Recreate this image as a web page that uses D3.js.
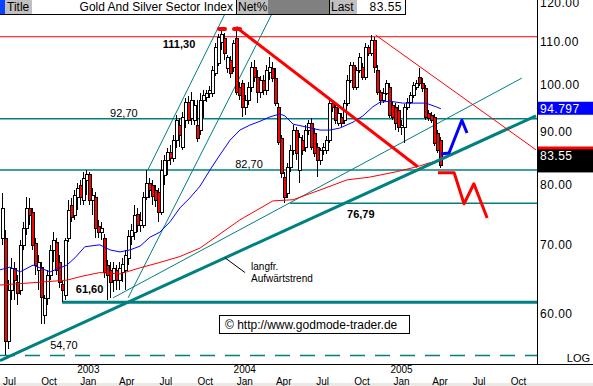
<!DOCTYPE html>
<html>
<head>
<meta charset="utf-8">
<script src="https://cdn.jsdelivr.net/npm/d3@7/dist/d3.min.js"></script>
<style>
  body { margin: 0; background: #fff; }
  svg { display: block; }
  text { font-family: "Liberation Sans", Arial, sans-serif; fill: #000; }
</style>
</head>
<body>
<div id="chart"></div>
<script>
// weekly candles, the last bar is the week of 4 Apr 2005
const lastWeek = new Date(2005, 3, 4);

const opens = [71.0,71.0,56.5,63.3,66.5,64.4,63.3,70.0,72.7,76.0, 75.3,70.3,66.2,66.6,59.8,62.2,65.5,69.2,70.4,67.4,
  64.1,62.6,71.0,76.5,74.8,77.9,80.0,77.4,80.9,82.0, 77.4,77.9,73.0,72.0,71.0,66.9,66.2,64.7,66.2,64.7,
  65.9,66.2,68.0,71.4,72.0,75.0,73.2,73.2,77.9,80.4, 80.0,79.1,78.8,75.3,81.8,84.6,86.1,84.9,88.4,91.4,
  87.1,92.4,96.2,92.9,92.4,91.4,90.4,96.7,97.3,98.2, 98.2,102.7,105.0,110.0,111.0,103.8,105.7,104.0,111.0,99.5,
  100.4,95.2,96.7,99.5,104.0,101.7,98.4,101.1,98.8,102.9, 103.8,101.5,95.2,88.8,81.4,78.6,83.3,86.5,90.4,82.7,
  88.4,87.1,90.4,91.8,89.8,87.1,84.6,86.5,86.5,88.4, 96.0,95.2,91.8,93.1,92.4,96.0,101.1,104.5,99.5,103.3,
  104.0,101.7,108.8,107.4,110.5,103.3,98.4,96.7,98.2,99.5, 95.6,95.2,94.5,91.0,91.0,95.2,96.2,97.7,99.5,101.7,
  100.4,99.3,93.9,93.5,93.1,89.8,88.4];
const highs = [78.6,72.3,64.7,68.0,67.4,65.5,70.8,73.7,77.9,77.7, 76.0,71.0,68.4,67.4,62.6,66.2,70.0,72.0,71.0,68.4,
  64.7,71.0,77.4,77.7,79.1,80.4,80.9,82.4,82.7,82.4, 79.4,78.8,74.0,73.7,71.7,67.7,67.4,67.4,66.9,67.4,
  68.0,69.2,72.3,73.3,76.5,76.0,75.3,78.8,82.7,81.2, 80.9,80.0,79.4,84.6,85.5,86.9,87.4,89.4,93.5,92.9,
  94.1,97.1,97.5,98.4,96.7,96.7,98.2,98.8,98.8,99.7, 104.3,109.75,112.0,113.0,112.2,106.9,106.6,110.5,113.0,100.6,
  101.1,97.7,100.6,105.2,105.7,103.3,102.0,102.2,104.5,106.4, 105.2,103.8,96.0,89.4,82.4,84.0,87.4,91.4,91.0,89.8,
  89.4,91.4,92.4,92.9,90.8,87.8,86.9,87.8,89.2,96.7, 96.7,96.0,94.9,93.9,96.7,102.2,105.2,105.2,104.0,107.4,
  105.0,109.75,109.3,111.7,111.2,104.5,98.8,99.3,101.1,100.4, 96.2,96.0,95.6,92.4,95.8,97.1,98.4,100.6,101.1,103.8,
  101.5,99.9,94.5,94.1,93.7,90.4,89.0];
const lows = [70.0,54.7,55.5,61.9,61.9,61.2,62.6,69.2,71.5,73.2, 69.2,65.5,63.3,58.7,58.7,61.2,64.7,67.4,65.5,63.6,
  61.6,61.9,70.4,73.7,74.0,75.6,76.5,76.5,78.2,76.5, 74.8,71.0,71.0,70.8,65.0,61.9,62.2,63.0,63.3,63.3,
  64.4,63.3,66.9,70.0,70.8,72.0,72.0,72.7,77.4,77.7, 76.5,76.2,73.7,74.8,80.0,81.8,83.6,84.2,86.9,87.1,
  86.5,90.8,91.6,91.4,91.4,88.0,89.4,92.9,96.2,97.1, 97.3,102.0,104.3,108.1,105.7,102.7,101.5,102.9,97.7,96.7,
  93.1,93.5,95.6,98.4,100.6,96.0,97.1,97.7,97.7,101.1, 100.6,95.4,87.4,81.2,76.79,77.7,82.4,85.5,84.6,80.4,
  85.5,86.1,89.4,86.5,85.1,81.4,83.6,85.5,85.7,87.8, 94.1,91.6,91.2,91.0,91.6,95.4,100.4,98.8,98.8,102.7,
  101.1,101.1,106.6,106.6,102.7,97.7,95.6,96.0,97.7,92.9, 92.4,90.4,90.0,89.4,87.8,94.5,95.8,97.1,98.8,99.7,
  98.4,92.4,92.2,91.8,87.2,85.9,83.1];
const closes = [76.0,56.5,63.3,66.5,64.7,62.9,70.0,72.7,76.0,74.8, 70.0,66.9,67.4,62.3,62.2,65.5,69.2,70.8,66.2,64.4,
  63.3,70.8,75.6,74.5,78.2,79.4,77.9,81.2,82.0,77.4, 78.2,72.7,72.0,72.7,65.9,65.5,64.4,66.5,64.7,66.5,
  67.1,68.4,71.4,72.3,74.8,73.2,74.0,77.9,80.4,79.1, 78.0,77.4,75.3,82.7,84.6,86.1,84.9,88.4,92.4,89.4,
  93.1,96.2,92.4,96.7,95.6,88.8,96.7,97.7,98.2,98.8, 103.3,108.8,111.2,112.0,107.4,106.4,102.7,109.75,98.4,97.7,
  95.2,96.7,99.5,104.0,101.7,98.4,101.1,98.8,103.3,104.0, 101.5,96.0,88.0,82.2,77.9,83.3,86.5,90.4,85.9,89.0,
  86.5,90.4,91.8,87.1,85.9,84.6,86.5,87.1,88.4,96.0, 95.2,92.4,93.9,91.8,96.0,101.1,104.5,99.5,103.3,106.4,
  101.7,108.8,107.4,110.5,104.0,98.4,96.7,98.2,100.4,93.5, 93.1,91.8,91.0,91.4,95.2,96.2,97.7,99.9,100.4,100.4,
  99.3,93.1,92.9,92.4,87.8,86.5,83.55];

// moving averages
const maFastDates = ["2002-06-10","2002-07-03","2002-07-27","2002-08-26","2002-09-11","2002-10-05","2002-10-28","2002-11-13","2002-12-02","2002-12-25",
  "2003-01-29","2003-02-22","2003-03-17","2003-04-09","2003-05-03","2003-05-26","2003-06-18","2003-07-12","2003-08-04","2003-08-27","2003-09-20","2003-10-13","2003-11-05","2003-11-29","2003-12-22",
  "2004-01-14","2004-02-07","2004-03-01","2004-03-24","2004-04-05","2004-04-24","2004-05-26","2004-06-26","2004-07-19","2004-08-11","2004-09-11","2004-10-04","2004-10-27","2004-11-13","2004-12-06",
  "2005-01-05","2005-02-07","2005-02-28","2005-03-24","2005-04-04"];
const maFastValues = [66.2,66.6,65.9,66.9,66.5,65.9,66.5,66.9,68.0,69.7,
  70.0,69.2,68.9,69.2,69.8,71.2,72.0,73.7,76.0,77.7,79.8,82.7,85.5,88.4,90.4,
  91.4,92.2,93.1,93.7,93.3,91.6,91.0,90.4,90.4,90.8,92.0,93.3,95.2,96.2,96.4,
  96.0,96.0,96.0,95.2,94.797];
const maSlowDates = ["2002-06-10","2002-07-27","2002-09-11","2002-11-13","2002-12-21","2003-01-29","2003-03-17","2003-05-03","2003-06-18","2003-08-04","2003-09-20",
  "2003-12-22","2004-03-08","2004-04-24","2004-06-26","2004-08-28","2004-10-20","2004-12-22","2005-02-07","2005-03-07","2005-03-31"];
const maSlowValues = [64.0,64.2,64.4,64.7,65.3,65.8,65.6,66.5,67.3,68.2,69.5,74.0,77.2,77.4,79.1,80.9,81.4,82.4,83.3,84.0,84.4];

// horizontal levels
const levelValues = [111.3, 92.7, 82.7, 76.79, 61.6, 54.7];
const levelLabels = ["111,30", "92,70", "82,70", "76,79", "61,60", "54,70"];
const levelLabelDates = ["2003-06-25", "2003-02-22", "2003-12-11", "2004-08-28", "2002-12-04", "2002-10-05"];
const levelStarts = [null, null, null, "2004-04-17", "2002-11-02", null];

// drawn trend lines and projected paths: [date, value]
const trendLong = [["2002-06-10", 54.08], ["2005-11-12", 93.3]];
const trendSteepA = [["2003-05-21", 82.7], ["2003-12-03", 120.8]];
const trendSteepB = [["2003-04-05", 62.2], ["2004-03-06", 117.2]];
const trendFlat = [["2003-03-01", 62.2], ["2005-10-10", 101.5]];
const downThick = [["2003-12-13", 113.7], ["2005-02-09", 83.3]];
const downThin = [["2004-11-03", 111.7], ["2005-11-12", 86.5]];
const pathUp = [["2005-04-04", 85.7], ["2005-04-23", 85.9], ["2005-05-23", 92.4], ["2005-06-04", 89.8]];
const pathDown = [["2005-03-28", 82.2], ["2005-05-05", 82.2], ["2005-05-28", 76.7], ["2005-06-20", 80.2], ["2005-07-21", 74.3]];
const pointer = [["2003-11-17", 68.0], ["2004-01-03", 65.8]];

const axisTicks = [60, 70, 80, 90, 100, 110, 120];

const width = 593, height = 386;
const plotRight = 537, axisY = 364, plotTop = 15;
const teal = "#008080";
const parse = d3.timeParse("%Y-%m-%d");

const svg = d3.select("#chart").append("svg")
  .attr("width", width)
  .attr("height", height);

svg.append("rect").attr("width", width).attr("height", height).attr("fill", "#fff");
svg.append("rect").attr("x", 0).attr("y", 383).attr("width", width).attr("height", 3).attr("fill", "#ece9e4");

const x = d3.scaleTime()
  .domain([new Date(2002, 6, 1), new Date(2005, 9, 1)])
  .range([9, 518]);
const y = d3.scaleLog()
  .domain([53.67, 120.8])
  .range([axisY, 0]);

const candles = closes.map((c, i) => ({
  date: d3.timeWeek.offset(lastWeek, i - (closes.length - 1)),
  open: opens[i], high: highs[i], low: lows[i], close: c
}));

svg.append("clipPath").attr("id", "plot-clip")
  .append("rect").attr("x", 0).attr("y", plotTop).attr("width", plotRight).attr("height", axisY - plotTop);

const plot = svg.append("g").attr("clip-path", "url(#plot-clip)");

// horizontal support / resistance lines
levelValues.forEach((v, i) => {
  const x0 = levelStarts[i] ? x(parse(levelStarts[i])) : 0;
  const yy = y(v);
  const line = plot.append("line")
    .attr("x1", x0).attr("x2", plotRight)
    .attr("y1", yy).attr("y2", yy);
  if (i === 0) line.attr("stroke", "#ff0000").attr("stroke-width", 1);
  else if (i === 4) line.attr("stroke", teal).attr("stroke-width", 3);
  else if (i === 5) line.attr("stroke", teal).attr("stroke-width", 1.5).attr("stroke-dasharray", "15,10");
  else line.attr("stroke", teal).attr("stroke-width", 1.5);
});

const linePts = d3.line()
  .x(d => x(parse(d[0])))
  .y(d => y(d[1]));

// thin channel lines
[trendSteepA, trendSteepB, trendFlat].forEach(t => {
  plot.append("path").attr("d", linePts(t))
    .attr("fill", "none").attr("stroke", teal).attr("stroke-width", 1);
});

// candles
const cg = plot.append("g");
cg.selectAll("line")
  .data(candles)
  .enter()
  .append("line")
  .attr("x1", d => Math.round(x(d.date)) - 0.5)
  .attr("x2", d => Math.round(x(d.date)) - 0.5)
  .attr("y1", d => Math.round(y(d.high)))
  .attr("y2", d => Math.round(y(d.low)))
  .attr("stroke", "#000")
  .attr("stroke-width", 1);
cg.selectAll("rect")
  .data(candles)
  .enter()
  .append("rect")
  .attr("x", d => Math.round(x(d.date)) - 1.5)
  .attr("y", d => Math.round(y(Math.max(d.open, d.close))) + 0.5)
  .attr("width", 3)
  .attr("height", d => Math.max(1, Math.round(y(Math.min(d.open, d.close))) - Math.round(y(Math.max(d.open, d.close)))))
  .attr("fill", d => d.close < d.open ? "#ff0000" : "#fff")
  .attr("stroke", "#000")
  .attr("stroke-width", 1);

// moving averages
const maLine = d3.line().x(d => x(d[0])).y(d => y(d[1]));
plot.append("path")
  .attr("d", maLine(maSlowDates.map((d, i) => [parse(d), maSlowValues[i]])))
  .attr("fill", "none").attr("stroke", "#ff0000").attr("stroke-width", 1);
plot.append("path")
  .attr("d", maLine(maFastDates.map((d, i) => [parse(d), maFastValues[i]])))
  .attr("fill", "none").attr("stroke", "#0000ff").attr("stroke-width", 1);

// main trend lines
plot.append("path").attr("d", linePts(trendLong))
  .attr("fill", "none").attr("stroke", teal).attr("stroke-width", 3);
plot.append("path").attr("d", linePts(downThick))
  .attr("fill", "none").attr("stroke", "#ff0000").attr("stroke-width", 3);
plot.append("path").attr("d", linePts(downThin))
  .attr("fill", "none").attr("stroke", "#ff0000").attr("stroke-width", 1);

// markers on the two tops
plot.selectAll("rect.top")
  .data(candles.filter(d => d.high >= 112.9))
  .enter()
  .append("rect")
  .attr("class", "top")
  .attr("x", d => Math.round(x(d.date)) - 5)
  .attr("y", d => y(d.high) - 3)
  .attr("width", 10).attr("height", 4).attr("rx", 2)
  .attr("fill", "#ff0000");

// projected paths
plot.append("path").attr("d", linePts(pathUp))
  .attr("fill", "none").attr("stroke", "#0000ff").attr("stroke-width", 3).attr("stroke-linejoin", "round");
plot.append("path").attr("d", linePts(pathDown))
  .attr("fill", "none").attr("stroke", "#ff0000").attr("stroke-width", 3).attr("stroke-linejoin", "round");

// level labels
levelValues.forEach((v, i) => {
  const bold = i === 0 || i === 3 || i === 4;
  const dy = [11, -2, -2, 15, -9, -6][i];
  plot.append("text")
    .attr("x", x(parse(levelLabelDates[i])))
    .attr("y", y(v) + dy)
    .style("font-size", "11px")
    .style("font-weight", bold ? "bold" : "normal")
    .text(levelLabels[i]);
});

// long-term trend note
plot.append("path").attr("d", linePts(pointer))
  .attr("fill", "none").attr("stroke", "#000").attr("stroke-width", 1);
plot.append("text")
  .attr("x", x(parse("2004-01-17"))).attr("y", 270)
  .style("font-size", "10px").text("langfr.");
plot.append("text")
  .attr("x", x(parse("2004-01-17"))).attr("y", 282)
  .style("font-size", "10px").text("Aufwärtstrend");

// copyright box
svg.append("rect")
  .attr("x", 219.5).attr("y", 315.5).attr("width", 190).attr("height", 18)
  .attr("fill", "#fff").attr("stroke", "#000");
svg.append("text")
  .attr("x", 225).attr("y", 329)
  .style("font-size", "12px")
  .text("\u00a9 http://www.godmode-trader.de");

// right price axis
svg.append("line")
  .attr("x1", plotRight + 0.5).attr("x2", plotRight + 0.5)
  .attr("y1", 0).attr("y2", axisY)
  .attr("stroke", "#000");
const yAxis = svg.append("g")
  .attr("transform", `translate(${plotRight},0)`)
  .call(d3.axisRight(y).tickValues(axisTicks).tickFormat(d3.format(".2f")).tickSize(0).tickPadding(3));
yAxis.select(".domain").remove();
yAxis.selectAll("text")
  .style("font-family", "'Liberation Sans', Arial, sans-serif")
  .style("font-size", "12px")
  .style("letter-spacing", "0.5px");

function priceBox(fill, label, top, h) {
  svg.append("rect")
    .attr("x", plotRight + 1).attr("y", top)
    .attr("width", width - plotRight - 1).attr("height", h)
    .attr("fill", fill);
  if (label) {
    svg.append("text")
      .attr("x", plotRight + 3).attr("y", top + 11)
      .style("font-size", "12px").style("letter-spacing", "0.5px")
      .style("fill", "#fff")
      .text(label);
  }
}
priceBox("#0000ff", "94.797", y(94.797) - 7, 13);
// slow average box sits mostly behind the last-price box
priceBox("#ff0000", null, y(85.8) - 7, 13);
priceBox("#000", "83.55", y(83.55) - 16, 23);

// time axis: month names, with the year stacked above each January
svg.append("line")
  .attr("x1", 0).attr("x2", width)
  .attr("y1", axisY + 0.5).attr("y2", axisY + 0.5)
  .attr("stroke", "#000");
const monthTicks = d3.timeMonth.every(3).range(new Date(2002, 6, 1), new Date(2005, 10, 1));
const monthFmt = d3.timeFormat("%b");
const xAxis = svg.append("g")
  .attr("transform", `translate(0,${axisY})`)
  .call(d3.axisBottom(x).tickValues(monthTicks).tickFormat("").tickSize(0));
xAxis.select(".domain").remove();
xAxis.selectAll(".tick text").each(function (d) {
  const t = d3.select(this)
    .attr("y", 20.5)
    .attr("dy", null)
    .style("font-family", "'Liberation Sans', Arial, sans-serif")
    .style("font-size", "10px");
  if (d.getMonth() === 0) {
    t.append("tspan").attr("x", 0).attr("y", 8.5).text(d.getFullYear());
    t.append("tspan").attr("x", 0).attr("y", 20.5).text(monthFmt(d));
  } else {
    t.text(monthFmt(d));
  }
});
svg.append("text")
  .attr("x", 590).attr("y", 362)
  .attr("text-anchor", "end")
  .style("font-size", "11px")
  .text("LOG");

// header bar
const head = svg.append("g");
head.append("rect").attr("x", 0).attr("y", 0).attr("width", 406).attr("height", 14).attr("fill", "#fff");
head.append("rect").attr("x", 0).attr("y", 0).attr("width", 5).attr("height", 14).attr("fill", "#0a40ff");
head.append("rect").attr("x", 5).attr("y", 0).attr("width", 27).attr("height", 14).attr("fill", "#c0c0c0");
head.append("rect").attr("x", 237).attr("y", 0).attr("width", 31).attr("height", 14).attr("fill", "#c0c0c0");
head.append("rect").attr("x", 268).attr("y", 0).attr("width", 61).attr("height", 14).attr("fill", "#808080");
head.append("rect").attr("x", 330).attr("y", 0).attr("width", 27).attr("height", 14).attr("fill", "#c0c0c0");
[[236.5, 236.5, 0, 14], [329.5, 329.5, 0, 14], [405.5, 405.5, 0, 14], [0, 406, 14.5, 14.5]].forEach(l => {
  head.append("line").attr("x1", l[0]).attr("x2", l[1]).attr("y1", l[2]).attr("y2", l[3]).attr("stroke", "#000");
});
head.append("text").attr("x", 7).attr("y", 11).style("font-size", "12px").text("Title");
head.append("text").attr("x", 233).attr("y", 11).attr("text-anchor", "end").style("font-size", "12px")
  .text("Gold And Silver Sector Index");
head.append("text").attr("x", 238).attr("y", 11).style("font-size", "12px").text("Net%");
head.append("text").attr("x", 331).attr("y", 11).style("font-size", "12px").text("Last");
head.append("text").attr("x", 402).attr("y", 11).attr("text-anchor", "end")
  .style("font-size", "12px").style("letter-spacing", "0.5px")
  .text(d3.format(".2f")(closes[closes.length - 1]));
</script>
</body>
</html>
